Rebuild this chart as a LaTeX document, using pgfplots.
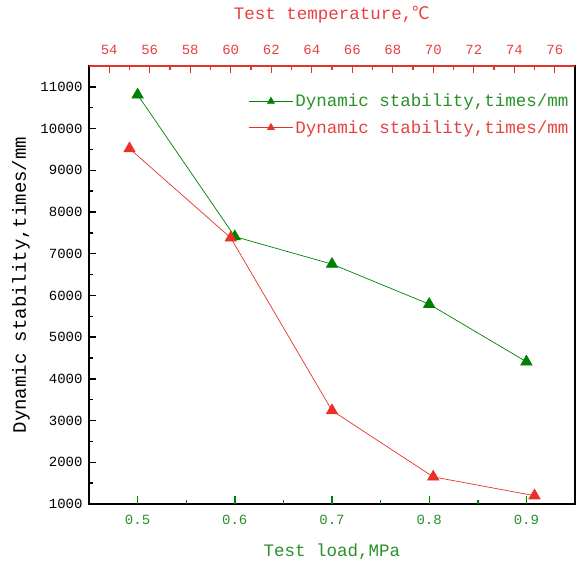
\documentclass[border=0pt]{standalone}
\usepackage{fontspec}
\setmainfont{Liberation Mono}
\newfontfamily\cjk{Noto Sans CJK SC}
\usepackage{pgfplots}
\pgfplotsset{compat=1.18}
\definecolor{cg}{RGB}{0,128,0}
\definecolor{cr}{RGB}{232,50,40}
\definecolor{tg}{RGB}{40,145,40}
\definecolor{tr}{RGB}{232,64,64}
\begin{document}
\begin{tikzpicture}
\pgfplotsset{
  common/.style={
    scale only axis, width=486pt, height=438pt,
    at={(0,0)}, anchor=south west,
    ymin=1000, ymax=11500, clip=false,
    scaled y ticks=false, scaled x ticks=false,
    /pgf/number format/assume math mode=true,
    /pgf/number format/set thousands separator={},
    major tick length=0pt, minor tick length=0pt,
  }
}
\begin{axis}[common, name=ax1,
  xmin=0.45, xmax=0.95,
  xtick={0.5,0.6,0.7,0.8,0.9},
  ytick={1000,2000,...,11000},
  xtick pos=left, ytick pos=left,
  axis line style={line width=1.6pt},
  x axis line style={cg},
  y axis line style={black},
  xticklabel style={tg, font=\fontsize{14}{16}\selectfont, yshift=-8pt,
     /pgf/number format/fixed, /pgf/number format/precision=1},
  yticklabel style={black, font=\fontsize{14}{16}\selectfont, xshift=-3pt},
  xlabel={Test load,MPa},
  xlabel style={tg, font=\fontsize{17.5}{20}\selectfont, at={(axis description cs:0.5,-0.11)}, anchor=center},
  ylabel={Dynamic stability,times/mm},
  ylabel style={black, font=\fontsize{19}{22}\selectfont, at={(axis description cs:-0.14,0.5)}, anchor=center, rotate=0},
]
\pgfplotsinvokeforeach{1000,2000,3000,4000,5000,6000,7000,8000,9000,10000,11000}{
  \draw[black, line width=1.4pt] (axis cs:0.45,#1) -- ([xshift=7pt]axis cs:0.45,#1);}
\pgfplotsinvokeforeach{1500,2500,3500,4500,5500,6500,7500,8500,9500,10500}{
  \draw[black, line width=1.4pt] (axis cs:0.45,#1) -- ([xshift=4pt]axis cs:0.45,#1);}
\pgfplotsinvokeforeach{0.5,0.6,0.7,0.8,0.9}{
  \draw[cg, line width=1.4pt] (axis cs:#1,1000) -- ([yshift=8pt]axis cs:#1,1000);}
\pgfplotsinvokeforeach{0.55,0.65,0.75,0.85}{
  \draw[cg, line width=1.4pt] (axis cs:#1,1000) -- ([yshift=4.5pt]axis cs:#1,1000);}
\addplot[cg, line width=0.7pt, mark=triangle*, mark size=6.5pt, mark options={fill=cg, draw=cg}]
  coordinates {(0.5,10810) (0.6,7410) (0.7,6750) (0.8,5790) (0.9,4410)};
\end{axis}
\begin{axis}[common, name=ax2,
  xmin=53, xmax=77,
  axis x line*=top, axis y line=none,
  axis line style={line width=1.6pt},
  x axis line style={cr, -},
  xtick={54,56,...,76},
  xticklabel style={tr, font=\fontsize{14}{16}\selectfont, yshift=8pt},
  xlabel={Test temperature,{\cjk ℃}},
  xlabel style={tr, font=\fontsize{17.5}{20}\selectfont, at={(axis description cs:0.5,1.1164)}, anchor=center},
  legend style={draw=none, fill=none, at={(axis description cs:0.995,0.945)}, anchor=north east,
    font=\fontsize{17.5}{20}\selectfont, row sep=8pt, inner sep=2pt},
  legend cell align=left,
  legend image code/.code={\draw[#1, mark size=4pt, mark repeat=2, mark phase=2] plot coordinates {(0pt,0pt) (22pt,0pt) (44pt,0pt)};},
]
\pgfplotsinvokeforeach{54,56,58,60,62,64,66,68,70,72,74,76}{
  \draw[cr, line width=1.4pt] (axis cs:#1,11500) -- ([yshift=-7pt]axis cs:#1,11500);}
\pgfplotsinvokeforeach{55,57,59,61,63,65,67,69,71,73,75}{
  \draw[cr, line width=1.4pt] (axis cs:#1,11500) -- ([yshift=-4pt]axis cs:#1,11500);}
\addlegendimage{cg, line width=0.7pt, mark=triangle*, mark options={fill=cg, draw=cg}}
\addlegendentry{\textcolor{tg}{Dynamic stability,times/mm}}
\addplot[cr, line width=0.7pt, mark=triangle*, mark size=6.5pt, mark options={fill=cr, draw=cr}]
  coordinates {(55,9520) (60,7380) (65,3240) (70,1650) (75,1200)};
\addlegendentry{\textcolor{tr}{Dynamic stability,times/mm}}
\end{axis}
\pgfresetboundingbox
\useasboundingbox ([xshift=-89pt,yshift=-62pt]ax1.south west) rectangle ([xshift=1pt,yshift=66pt]ax1.north east);
\end{tikzpicture}
\end{document}
